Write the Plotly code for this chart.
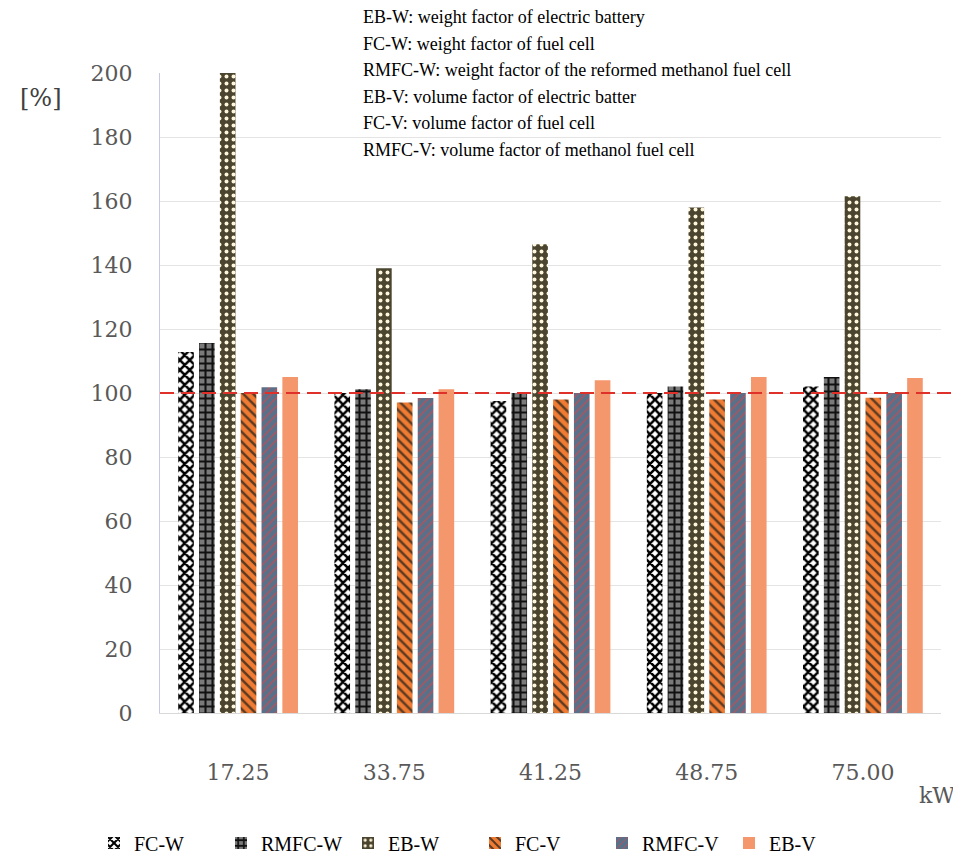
import plotly.graph_objects as go

categories = ["17.25", "33.75", "41.25", "48.75", "75.00"]
series_names = ["FC-W", "RMFC-W", "EB-W", "FC-V", "RMFC-V", "EB-V"]
fc_w = [112.8, 100.0, 97.5, 100.0, 102.0]
rmfc_w = [115.6, 101.2, 100.0, 102.0, 105.0]
eb_w = [200.0, 139.0, 146.5, 158.0, 161.5]
fc_v = [100.0, 97.0, 98.0, 98.0, 98.5]
rmfc_v = [101.8, 98.4, 100.0, 100.0, 100.0]
eb_v = [105.0, 101.2, 104.0, 105.0, 104.7]
reference_line = 100
y_ticks = [0, 20, 40, 60, 80, 100, 120, 140, 160, 180, 200]
note_lines = [
    "EB-W: weight factor of electric battery",
    "FC-W: weight factor of fuel cell",
    "RMFC-W: weight factor of the reformed methanol fuel cell",
    "EB-V: volume factor of electric batter",
    "FC-V: volume factor of fuel cell",
    "RMFC-V: volume factor of methanol fuel cell",
]

values = [fc_w, rmfc_w, eb_w, fc_v, rmfc_v, eb_v]
styles = [
    dict(color="white", pattern=dict(shape="x", fgcolor="black", bgcolor="white", size=7, solidity=0.6, fgopacity=1)),
    dict(color="#7a7a7a", pattern=dict(shape="+", fgcolor="#111111", bgcolor="#7a7a7a", size=7, solidity=0.5, fgopacity=1)),
    dict(color="#4b4530", pattern=dict(shape=".", fgcolor="#fff6dc", bgcolor="#4b4530", size=7, solidity=0.25, fgopacity=1)),
    dict(color="#f07b32", pattern=dict(shape="\\", fgcolor="#5a3a22", bgcolor="#f07b32", size=7, solidity=0.35, fgopacity=1)),
    dict(color="#5a7089", pattern=dict(shape="/", fgcolor="#b8505a", bgcolor="#5a7089", size=6, solidity=0.2, fgopacity=1)),
    dict(color="#f4976c"),
]

# page body has an 8px margin: figure is offset by (8, 8)
OFF = 8
W, H = 961 - OFF, 858 - OFF
L, T, R, B = 160 - OFF, 73 - OFF, 20, 145
PW, PH = W - L - R, H - T - B
LEGEND_ENTRY = 82


def px_x(page_x):
    return (page_x - OFF - L) / PW


def px_y(page_y):
    return (H - B - (page_y - OFF)) / PH


fig = go.Figure()
for name, vals, st in zip(series_names, values, styles):
    fig.add_trace(go.Bar(name=name, x=categories, y=vals, marker=dict(line=dict(width=0), **st)))

fig.add_shape(type="line", xref="paper", yref="y", x0=0, x1=px_x(961), y0=reference_line, y1=reference_line,
              line=dict(color="#e0302a", width=2, dash="14px,7px"))

for i, line in enumerate(note_lines):
    fig.add_annotation(text=line, xref="paper", yref="paper", x=px_x(361),
                       y=px_y(17 + i * 26.6), xanchor="left", yanchor="middle",
                       showarrow=False, font=dict(family="Liberation Serif", size=18, color="black"))

fig.add_annotation(text="[%]", xref="paper", yref="paper", x=px_x(41), y=px_y(98),
                   xanchor="center", yanchor="middle", showarrow=False,
                   font=dict(family="DejaVu Serif", size=24, color="#404040"))
fig.add_annotation(text="kW", xref="paper", yref="paper", x=px_x(957), y=px_y(795),
                   xanchor="right", yanchor="middle", showarrow=False,
                   font=dict(family="DejaVu Serif", size=22, color="#595959"))

fig.update_layout(
    width=W, height=H,
    margin=dict(l=L, r=R, t=T, b=B),
    paper_bgcolor="white", plot_bgcolor="white",
    barmode="group", bargap=0.2, bargroupgap=0.25,
    font=dict(family="Liberation Serif", size=20, color="black"),
    legend=dict(orientation="h", x=px_x(91 + 6 * (LEGEND_ENTRY + 45.5)), xanchor="right",
                yref="container", y=1 - (843 - OFF) / H, yanchor="middle",
                entrywidth=LEGEND_ENTRY, entrywidthmode="pixels",
                font=dict(family="Liberation Serif", size=20, color="black"), traceorder="normal"),
    showlegend=True,
)
fig.update_yaxes(range=[0, 200], tickvals=y_ticks, showgrid=True, gridcolor="#e4e4e4", gridwidth=1,
                 showline=True, linecolor="#c8c8e2", linewidth=1, zeroline=False,
                 tickfont=dict(family="DejaVu Serif", size=22, color="#595959"), ticklabelstandoff=22)
fig.update_xaxes(showline=True, linecolor="#d9d9d9", linewidth=1, showgrid=False,
                 tickfont=dict(family="DejaVu Serif", size=22, color="#595959"), ticklabelstandoff=40)

fig.write_html("out.html")
